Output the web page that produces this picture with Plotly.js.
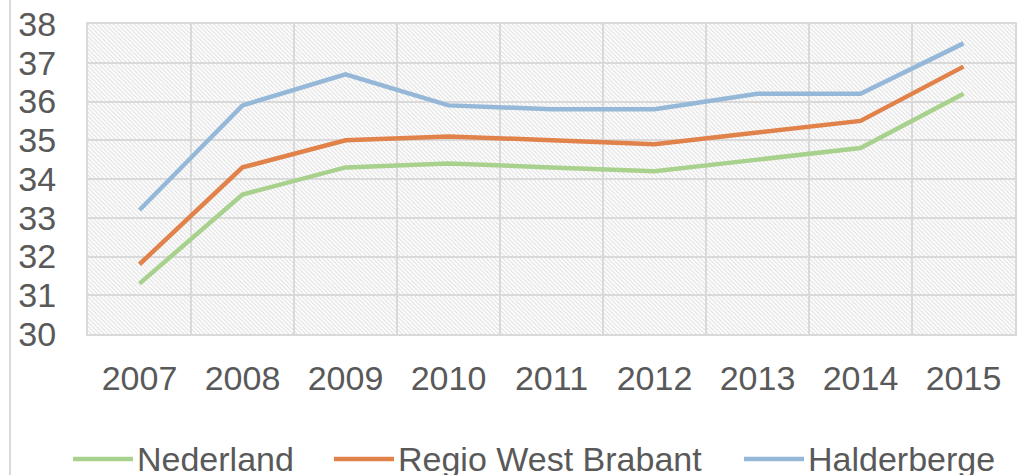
<!DOCTYPE html>
<html><head><meta charset="utf-8">
<script src="https://cdn.plot.ly/plotly-3.0.1.min.js"></script>
<style>body{margin:0;background:#fff}#c{width:1018px;height:475px}</style>
</head><body><div id="c"></div>
<script>
const years = ['2007','2008','2009','2010','2011','2012','2013','2014','2015'];
const seriesNames = ['Nederland','Regio West Brabant','Halderberge'];
const nederland = [31.3,33.6,34.3,34.4,34.3,34.2,34.5,34.8,36.2];
const regioWestBrabant = [31.8,34.3,35.0,35.1,35.0,34.9,35.2,35.5,36.9];
const halderberge = [33.2,35.9,36.7,35.9,35.8,35.8,36.2,36.2,37.5];
const colors = ['#A9D18E','#E0824A','#95B8D8'];

const L=88, T=24, PW=927, PH=310;
const svg = `<svg xmlns="http://www.w3.org/2000/svg" width="${PW}" height="${PH}"><defs><pattern id="p" width="4.2" height="4.2" patternUnits="userSpaceOnUse"><path d="M-1,-1 L5.2,5.2 M-1,3.2 L1,5.2 M3.2,-1 L5.2,1" stroke="#e0e0e0" stroke-width="1.1"/></pattern></defs><rect width="${PW}" height="${PH}" fill="#fff"/><rect width="${PW}" height="${PH}" fill="url(#p)"/></svg>`;
const img = 'data:image/svg+xml;base64,' + btoa(svg);

const font = {family:'Liberation Sans, Arial, sans-serif', size:34, color:'#595959'};
const mk = (name, y, color) => ({type:'scatter', mode:'lines', x:years, y:y, name:name,
  line:{color:color, width:4.5}, hoverinfo:'skip', showlegend:false});

// legend (custom, pixel placement converted to paper coords)
const px = v => (v-L)/PW, py = v => (T+PH-v)/PH;
const legSym = [73, 334, 744];
const legY = 459;
const shapes = [{type:'line', xref:'paper', yref:'paper', x0:px(10), x1:px(10), y0:py(475), y1:py(0), line:{color:'#d9d9d9', width:2}}];
const annotations = [];
seriesNames.forEach((n,i)=>{
  shapes.push({type:'line', xref:'paper', yref:'paper', x0:px(legSym[i]), x1:px(legSym[i]+60), y0:py(legY), y1:py(legY), line:{color:colors[i], width:4.5}});
  annotations.push({xref:'paper', yref:'paper', x:px(legSym[i]+63), y:py(legY), xanchor:'left', yanchor:'middle', text:n, showarrow:false, font:font, borderpad:0});
});

Plotly.newPlot('c', [
  mk(seriesNames[0], nederland, colors[0]),
  mk(seriesNames[1], regioWestBrabant, colors[1]),
  mk(seriesNames[2], halderberge, colors[2])
], {
  width:1018, height:475,
  margin:{l:L, r:1018-L-PW, t:T, b:475-T-PH, autoexpand:false},
  paper_bgcolor:'#fff', plot_bgcolor:'rgba(0,0,0,0)',
  font:font,
  showlegend:false,
  xaxis:{type:'category', range:[-0.5,8.5], tickson:'boundaries', showgrid:true, gridcolor:'#d9d9d9', gridwidth:2,
    showline:true, linecolor:'#d9d9d9', linewidth:2, mirror:true, ticks:'', ticklabelstandoff:13, automargin:false,
    tickfont:font, fixedrange:true, zeroline:false},
  yaxis:{range:[30,38], dtick:1, showgrid:true, gridcolor:'#d9d9d9', gridwidth:2,
    showline:true, linecolor:'#d9d9d9', linewidth:2, mirror:true, ticks:'', ticklabelstandoff:23, automargin:false,
    tickfont:font, fixedrange:true, zeroline:false},
  images:[{source:img, xref:'paper', yref:'paper', x:0, y:1, sizex:1, sizey:1, sizing:'stretch', layer:'below'}],
  shapes:shapes,
  annotations:annotations
}, {displayModeBar:false, staticPlot:true});
</script></body></html>
